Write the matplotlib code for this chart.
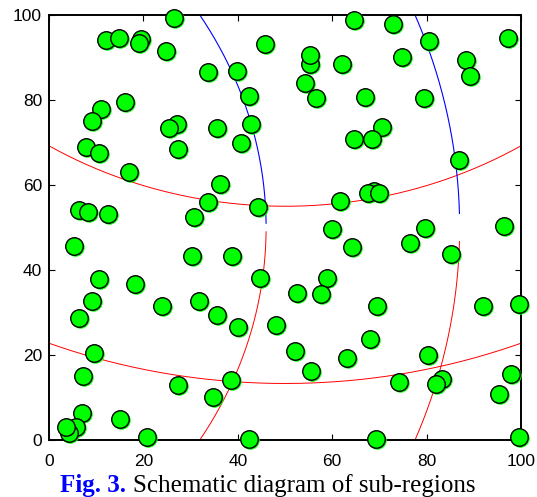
import numpy as np
import matplotlib
matplotlib.use("Agg")
import matplotlib.pyplot as plt
import matplotlib.transforms as mtransforms

# ── Data ──────────────────────────────────────────────────────────────────────
node_x = [26.5, 64.6, 72.8, 80.5, 97.3, 55.4, 55.4, 62.0, 74.7, 88.3,
          89.1, 54.3, 56.6, 66.9, 79.4, 70.5, 64.7, 68.4, 86.9, 61.7,
          68.9, 67.6, 69.9, 59.9, 79.7, 96.5, 12.1, 14.8, 19.6, 19.1,
          24.7, 45.8, 33.6, 39.9, 42.4, 16.2, 11.0, 9.2, 27.1, 25.5,
          35.5, 42.8, 7.8, 10.6, 27.3, 40.7, 16.9, 36.2, 33.6, 44.3,
          6.4, 8.3, 12.6, 30.7, 5.2, 30.2, 38.8, 10.7, 18.2, 44.7,
          9.2, 24.0, 31.8, 35.5, 40.0, 6.3, 48.1, 9.6, 7.3, 27.4,
          38.5, 34.8, 6.9, 15.0, 5.7, 4.3, 3.6, 20.7, 42.4, 64.3,
          76.5, 85.1, 58.8, 57.6, 52.5, 69.4, 92.0, 99.5, 68.0, 52.1,
          63.2, 80.2, 55.5, 74.2, 83.2, 82.0, 97.9, 95.4, 69.2, 99.5]
node_y = [99.2, 98.8, 98.0, 94.0, 94.7, 88.4, 90.6, 88.5, 90.2, 89.4,
          85.7, 84.1, 80.4, 80.7, 80.4, 73.7, 70.9, 70.9, 66.0, 56.2,
          58.6, 58.2, 58.2, 49.6, 49.8, 50.4, 94.2, 94.7, 94.4, 93.3,
          91.5, 93.1, 86.6, 86.9, 80.9, 79.5, 77.9, 75.1, 74.3, 73.5,
          73.5, 74.3, 68.9, 67.6, 68.4, 69.8, 63.1, 60.2, 56.1, 54.9,
          54.1, 53.6, 53.2, 52.5, 45.7, 43.4, 43.4, 37.9, 36.8, 38.0,
          32.7, 31.5, 32.7, 29.4, 26.5, 28.8, 27.0, 20.4, 15.1, 13.0,
          14.1, 10.0, 6.4, 4.9, 3.1, 1.6, 3.0, 0.6, 0.3, 45.4,
          46.3, 43.8, 38.0, 34.4, 34.7, 31.5, 31.5, 31.9, 23.7, 20.9,
          19.2, 20.0, 16.2, 13.7, 14.4, 13.1, 15.5, 10.8, 0.2, 0.6]

# horizontal boundaries: arcs around an anchor above the field
h_center = (50.0, 150.0)
h_radii = [95.0, 136.7]
# vertical boundaries: arcs around an anchor left of the field
v_center = (-50.0, 50.0)
v_radii = [96.0, 137.0]
v_blue_ymin = [51.0, 53.3]   # blue part (upper half) starts here
v_red_ymax = [49.0, 46.7]    # red part (lower half) ends here

ticks = [0, 20, 40, 60, 80, 100]

# ── Figure ────────────────────────────────────────────────────────────────────
fig = plt.figure(figsize=(5.37, 4.97), dpi=100)
ax = fig.add_axes([0.0912, 0.1147, 0.8790, 0.8551])

# red horizontal arcs
for r in h_radii:
    xx = np.linspace(0, 100, 300)
    yy = h_center[1] - np.sqrt(r**2 - (xx - h_center[0])**2)
    ax.plot(xx, yy, color="#FF0000", lw=0.7, zorder=2)

# vertical arcs: blue above, red below
for r, yb, yr in zip(v_radii, v_blue_ymin, v_red_ymax):
    yy = np.linspace(yb, 100, 200)
    ax.plot(v_center[0] + np.sqrt(r**2 - (yy - v_center[1])**2), yy,
            color="#0000FF", lw=0.8, zorder=2)
    yy = np.linspace(0, yr, 200)
    ax.plot(v_center[0] + np.sqrt(r**2 - (yy - v_center[1])**2), yy,
            color="#FF0000", lw=0.7, zorder=2)

# sensor nodes (with the slight green fringe of the original rendering)
shift = mtransforms.offset_copy(ax.transData, fig=fig, x=1.0, y=-1.0, units="dots")
ax.plot(node_x, node_y, "o", ms=12.6, mfc="#00FF00", mec="#00FF00", mew=0.6,
        transform=shift, clip_on=False, zorder=4)
for x, y in zip(node_x, node_y):
    ax.plot(x, y, "o", ms=12.6, mfc="#00FF00", mec="black", mew=1.0,
            clip_on=False, zorder=5)

ax.set_xlim(0, 100)
ax.set_ylim(0, 100)
ax.set_xticks(ticks)
ax.set_yticks(ticks)
ax.tick_params(direction="in", length=4, width=0.8, top=True, right=True,
               labelsize=12.5)
ax.tick_params(axis="x", pad=10)
ax.tick_params(axis="y", pad=5)
for lab in ax.get_xticklabels() + ax.get_yticklabels():
    lab.set_fontfamily("Liberation Sans")
for s in ax.spines.values():
    s.set_linewidth(1.4)
    s.set_zorder(3)

# caption: blue bold label followed by plain text
t1 = fig.text(0.112, 0.011, "Fig. 3.", fontsize=18, fontweight="bold",
              color="#0000FF", family="Liberation Serif", ha="left", va="baseline")
fig.canvas.draw()
bb = t1.get_window_extent().transformed(fig.transFigure.inverted())
fig.text(bb.x1 + 0.013, 0.011, "Schematic diagram of sub-regions", fontsize=18,
         family="Liberation Serif", color="black", ha="left", va="baseline")

fig.savefig("out.png", dpi=100)
